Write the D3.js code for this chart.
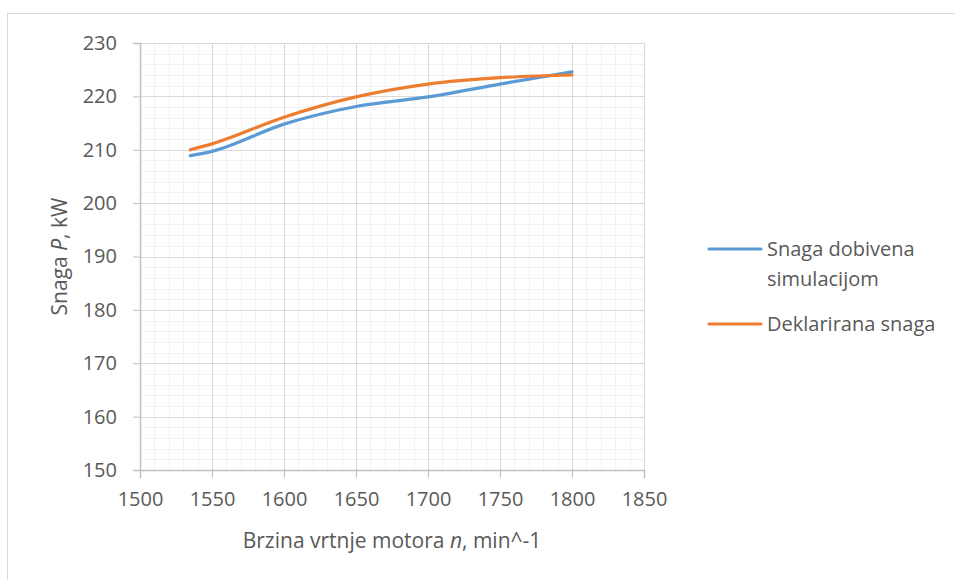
<!DOCTYPE html>
<meta charset="utf-8">
<style>
body { margin: 0; background: #fff; }
svg text { font-family: "Open Sans", "Noto Sans", sans-serif; fill: #595959; }
</style>
<body>
<svg width="955" height="580"></svg>
<script src="https://d3js.org/d3.v7.min.js"></script>
<script>
// brzina vrtnje (min^-1) i snaga (kW), ocitano s grafa
var brzina = [1535, 1550, 1600, 1650, 1700, 1750, 1800];
var snagaSimulacija = [208.9, 209.7, 214.8, 218.1, 219.9, 222.3, 224.6];
var snagaDeklarirana = [210.0, 211.1, 216.1, 219.9, 222.3, 223.5, 224.0];
var xTicks = [1500, 1550, 1600, 1650, 1700, 1750, 1800, 1850];
var yTicks = [150, 160, 170, 180, 190, 200, 210, 220, 230];
var nazivi = ["Snaga dobivena simulacijom", "Deklarirana snaga"];
var boje = ["#5b9bd5", "#ed7d31"];

var svg = d3.select("svg"),
    margin = {top: 43, left: 140},
    width = 504,
    height = 427;

// okvir grafa
svg.append("rect")
    .attr("x", 7.5).attr("y", 13.5)
    .attr("width", 960).attr("height", 600)
    .attr("fill", "none").attr("stroke", "#d9d9d9");

var g = svg.append("g").attr("transform", "translate(" + margin.left + "," + margin.top + ")");

var x = d3.scaleLinear().domain([1500, 1850]).range([0, width]);
var y = d3.scaleLinear().domain([150, 230]).range([height, 0]);

// pomocna mreza (svakih 10 min^-1 i 2 kW)
var xMinor = d3.range(1500, 1851, 10).filter(function(v) { return v % 50 != 0; });
var yMinor = d3.range(150, 231, 2).filter(function(v) { return v % 10 != 0; });

g.selectAll(".minx").data(xMinor).enter().append("line")
    .attr("x1", function(d) { return Math.round(x(d)) + 0.5; })
    .attr("x2", function(d) { return Math.round(x(d)) + 0.5; })
    .attr("y1", 0).attr("y2", height)
    .attr("stroke", "#f2f2f2");
g.selectAll(".miny").data(yMinor).enter().append("line")
    .attr("y1", function(d) { return Math.round(y(d)) + 0.5; })
    .attr("y2", function(d) { return Math.round(y(d)) + 0.5; })
    .attr("x1", 0).attr("x2", width)
    .attr("stroke", "#f2f2f2");

// glavna mreza
g.selectAll(".majx").data(xTicks).enter().append("line")
    .attr("x1", function(d) { return Math.round(x(d)) + 0.5; })
    .attr("x2", function(d) { return Math.round(x(d)) + 0.5; })
    .attr("y1", 0).attr("y2", height)
    .attr("stroke", "#d9d9d9");
g.selectAll(".majy").data(yTicks).enter().append("line")
    .attr("y1", function(d) { return Math.round(y(d)) + 0.5; })
    .attr("y2", function(d) { return Math.round(y(d)) + 0.5; })
    .attr("x1", 0).attr("x2", width)
    .attr("stroke", "#d9d9d9");

// osi
var yAxis = g.append("g")
    .call(d3.axisLeft(y).tickValues(yTicks).tickSize(7).tickPadding(16));
var xAxis = g.append("g")
    .attr("transform", "translate(0," + height + ")")
    .call(d3.axisBottom(x).tickValues(xTicks).tickFormat(d3.format("d")).tickSize(8).tickPadding(14));

[xAxis, yAxis].forEach(function(a) {
  a.selectAll("path, line").attr("stroke", "#bfbfbf");
  a.select(".domain").attr("stroke-width", 1.5);
  a.selectAll("text").attr("font-size", 20).attr("fill", "#595959")
      .style("font-family", "'Open Sans', sans-serif");
});

// krivulje
var line = d3.line()
    .x(function(d, i) { return x(brzina[i]); })
    .y(function(d) { return y(d); })
    .curve(d3.curveMonotoneX);

[snagaSimulacija, snagaDeklarirana].forEach(function(s, i) {
  g.append("path")
      .datum(s)
      .attr("d", line)
      .attr("fill", "none")
      .attr("stroke", boje[i])
      .attr("stroke-width", 3.2)
      .attr("stroke-linecap", "round");
});

// naslovi osi
var yt = svg.append("text")
    .attr("transform", "translate(67," + (margin.top + height / 2) + ") rotate(-90)")
    .attr("text-anchor", "middle")
    .attr("font-size", 21);
yt.append("tspan").text("Snaga ");
yt.append("tspan").attr("font-style", "italic").text("P");
yt.append("tspan").text(", kW");

var xt = svg.append("text")
    .attr("x", margin.left + width / 2).attr("y", 548)
    .attr("text-anchor", "middle")
    .attr("font-size", 21);
xt.append("tspan").text("Brzina vrtnje motora ");
xt.append("tspan").attr("font-style", "italic").text("n");
xt.append("tspan").text(", min^-1");

// legenda
var legend = svg.append("g");
var ly = [249, 324];
nazivi.forEach(function(n, i) {
  legend.append("line")
      .attr("x1", 709).attr("x2", 761)
      .attr("y1", ly[i]).attr("y2", ly[i])
      .attr("stroke", boje[i]).attr("stroke-width", 3.2)
      .attr("stroke-linecap", "round");
});
legend.append("text").attr("x", 767).attr("y", 249).attr("dy", "0.35em")
    .attr("font-size", 20).text("Snaga dobivena");
legend.append("text").attr("x", 767).attr("y", 279).attr("dy", "0.35em")
    .attr("font-size", 20).text("simulacijom");
legend.append("text").attr("x", 767).attr("y", 324).attr("dy", "0.35em")
    .attr("font-size", 20).text("Deklarirana snaga");
</script>
</body>
